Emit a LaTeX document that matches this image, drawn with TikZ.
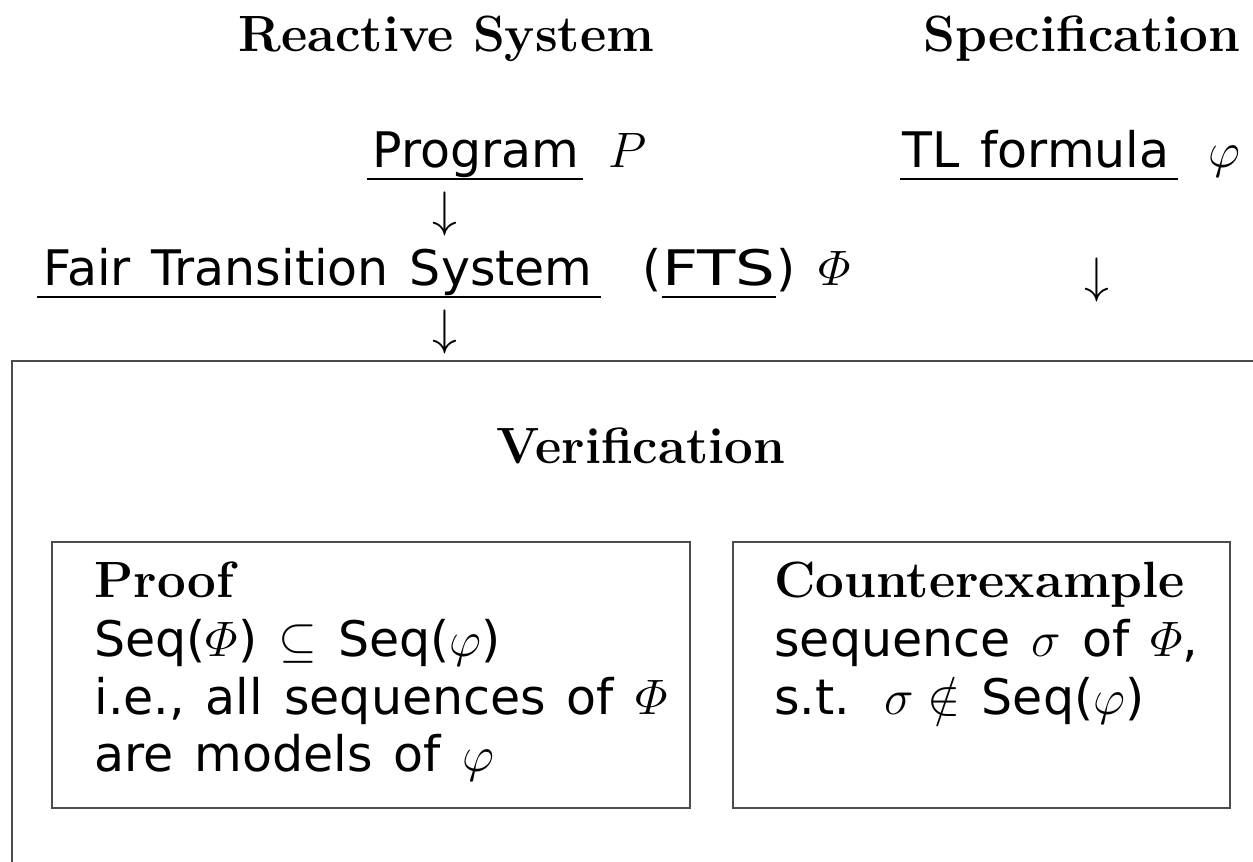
\documentclass[tikz,border=0pt]{standalone}
\usepackage{amsmath}
\usepackage{fontspec}
\newfontfamily\slsans[WordSpace=1.35]{DejaVu Sans}
\newfontfamily\slsanswide[FakeStretch=1.28]{DejaVu Sans}
\begin{document}
\begin{tikzpicture}[x=0.5pt,y=-0.5pt,
  head/.style={inner sep=0pt,anchor=base west,font=\fontsize{25.5}{30}\selectfont\bfseries},
  txt/.style={inner sep=0pt,anchor=base west,font=\fontsize{24.5}{30}\selectfont\slsans},
  frame/.style={draw=black!70,line width=0.8pt},
  uline/.style={line width=0.8pt},
  arr/.style={inner sep=0pt,font=\fontsize{25}{30}\selectfont}]
\useasboundingbox (0,0) rectangle (1253,862);
% headings
\node[head] (rs) at (238,51) {Reactive System};
\node[head] (sp) at (923,51) {Specification};
% top line
\node[txt] (prog) at (372,167) {Program};
\node[txt] (pP) at (608,167) {$P$};
\node[txt] (tl) at (902,167) {TL formula};
\node[txt] (phi) at (1208,167) {$\varphi$};
\draw[uline] ([shift={(-2.5pt,-6pt)}]prog.base west) -- ([shift={(1.5pt,-6pt)}]prog.base east);
\draw[uline] ([shift={(-1pt,-6pt)}]tl.base west) -- ([shift={(4pt,-6pt)}]tl.base east);
% arrows
\node[arr] (a1) at (445,214) {$\downarrow$};
\node[arr] (a2) at (445,332) {$\downarrow$};
\node[arr] (a3) at (1097,280) {$\downarrow$};
% FTS line
\node[txt] (fts) at (43,285) {Fair Transition System};
\node[txt] (lp) at (642,285) {(};
\node[txt,anchor=base west,font=\fontsize{24.5}{30}\selectfont\slsanswide] (ftsn) at (lp.base east) {FTS};
\node[txt,anchor=base west] (rp) at (ftsn.base east) {)};
\node[txt] (bPhi) at (818,285) {$\varPhi$};
\draw[uline] ([shift={(-3pt,-6pt)}]fts.base west) -- ([shift={(4pt,-6pt)}]fts.base east);
\draw[uline] ([yshift=-6pt]ftsn.base west) -- ([yshift=-6pt]ftsn.base east);
% verification frame
\coordinate (vbl) at (12,862);
\coordinate (vtl) at (12,361);
\coordinate (vtr) at (1253,361);
\draw[frame] (vbl) -- (vtl) -- (vtr);
\node[head,anchor=base] (ver) at (641,463) {Verification};
% proof box
\node[frame,minimum width=319pt,minimum height=133pt,inner sep=0pt] (pbox) at (371,675) {};
\node[head] (pr) at (94,597) {Proof};
\node[txt] (p1) at (94,656) {Seq($\varPhi$) $\subseteq$ Seq($\varphi$)};
\node[txt] (p2) at (94,714) {i.e., all sequences of $\varPhi$};
\node[txt] (p3) at (94,771) {are models of $\varphi$};
% counterexample box
\node[frame,minimum width=248.5pt,minimum height=133pt,inner sep=0pt] (cbox) at (981.5,675) {};
\node[head] (ce) at (774,597) {Counterexample};
\node[txt] (c1) at (774,656) {sequence $\sigma$ of $\varPhi$,};
\node[txt] (c2) at (774,714) {s.t.\hspace{17pt}$\sigma\notin$ Seq($\varphi$)};
\end{tikzpicture}
\end{document}
